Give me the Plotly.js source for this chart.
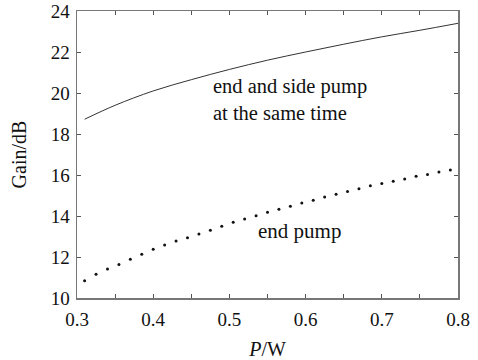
<!DOCTYPE html>
<html>
<head>
<meta charset="utf-8">
<script src="https://cdn.plot.ly/plotly-3.0.1.min.js"></script>
<style>html,body{margin:0;padding:0;background:#fff;}#chart{width:478px;height:360px;}</style>
</head>
<body>
<div id="chart"></div>
<script>
// Combined end + side pump (solid line)
const powerBoth = [0.31, 0.35, 0.40, 0.45, 0.50, 0.55, 0.60, 0.65, 0.70, 0.75, 0.80];
const gainBoth  = [18.72, 19.40, 20.10, 20.65, 21.15, 21.60, 22.00, 22.38, 22.74, 23.06, 23.40];

// End pump only (dotted)
const powerEnd = [0.310, 0.325, 0.340, 0.355, 0.370, 0.385, 0.400, 0.415, 0.430, 0.445, 0.460,
                  0.475, 0.490, 0.505, 0.520, 0.535, 0.550, 0.565, 0.580, 0.595, 0.610, 0.625,
                  0.640, 0.655, 0.670, 0.685, 0.700, 0.715, 0.730, 0.745, 0.760, 0.775, 0.790];
const gainEnd  = [10.84, 11.16, 11.41, 11.64, 11.89, 12.13, 12.38, 12.59, 12.78, 12.94, 13.12,
                  13.30, 13.50, 13.69, 13.85, 14.01, 14.18, 14.33, 14.47, 14.63, 14.77, 14.93,
                  15.06, 15.20, 15.33, 15.48, 15.58, 15.69, 15.80, 15.94, 16.03, 16.15, 16.24];

const xTickVals = [0.3, 0.4, 0.5, 0.6, 0.7, 0.8];
const xTickText = ["0.3", "0.4", "0.5", "0.6", "0.7", "0.8"];
const xMinorVals = [0.35, 0.45, 0.55, 0.65, 0.75];
const yTickVals = [10, 12, 14, 16, 18, 20, 22, 24];
const yTickText = ["10", "12", "14", "16", "18", "20", "22", "24"];

const labelBoth = "end and side pump<br>at the same time";
const labelEnd = "end pump";

const serif = "'Liberation Serif', 'Times New Roman', serif";

const traces = [
  {x: powerBoth, y: gainBoth, mode: "lines", line: {color: "#333", width: 1, shape: "spline"}, hoverinfo: "skip"},
  {x: powerEnd, y: gainEnd, mode: "markers", marker: {color: "#111", size: 3}, hoverinfo: "skip"}
];

const axisCommon = {
  showline: true, linecolor: "#777", linewidth: 1.5, mirror: "ticks",
  ticks: "inside", ticklen: 4, tickcolor: "#555", tickwidth: 1,
  showgrid: false, zeroline: false,
  tickfont: {family: serif, size: 19, color: "#111"}
};

const layout = {
  width: 478, height: 360,
  margin: {l: 77, r: 20, t: 11, b: 62},
  paper_bgcolor: "#fff", plot_bgcolor: "#fff",
  showlegend: false,
  font: {family: serif},
  xaxis: Object.assign({}, axisCommon, {
    range: [0.3, 0.8], tickvals: xTickVals, ticktext: xTickText,
    ticklabelstandoff: 4,
    minor: {tickvals: xMinorVals, ticks: "inside", ticklen: 4, tickcolor: "#555", showgrid: false},
    title: {text: "<i>P</i>/W", font: {family: serif, size: 20, color: "#111"}, standoff: 16},
    automargin: false
  }),
  yaxis: Object.assign({}, axisCommon, {
    range: [10, 24], tickvals: yTickVals, ticktext: yTickText,
    ticklabelstandoff: 2,
    title: {text: "Gain/dB", font: {family: serif, size: 20, color: "#111"}, standoff: 18},
    automargin: false
  }),
  annotations: [
    {x: 0.476, y: 19.67, xref: "x", yref: "y", text: labelBoth, showarrow: false, xanchor: "left", yanchor: "middle",
     align: "left", font: {family: serif, size: 20.5, color: "#111"}},
    {x: 0.535, y: 13.25, xref: "x", yref: "y", text: labelEnd, showarrow: false, xanchor: "left", yanchor: "middle",
     font: {family: serif, size: 21, color: "#111"}}
  ]
};

Plotly.newPlot("chart", traces, layout, {staticPlot: true, displayModeBar: false});
</script>
</body>
</html>
